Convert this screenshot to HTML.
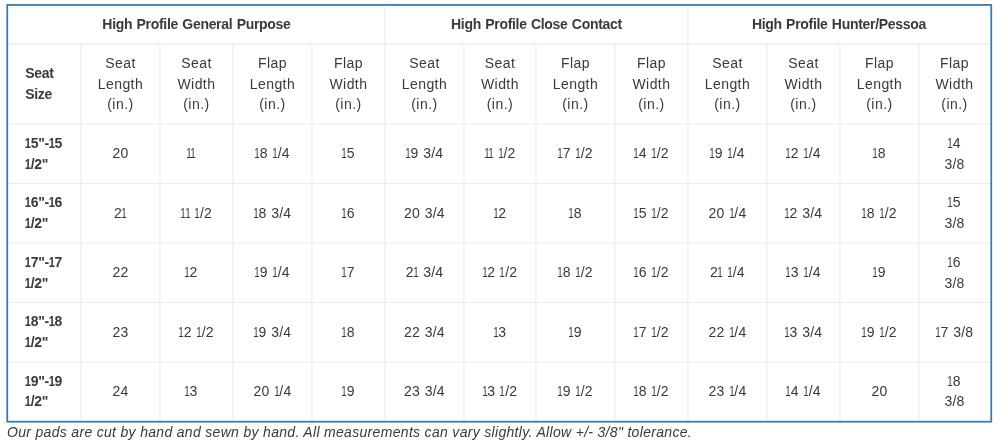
<!DOCTYPE html>
<html lang="en"><head><meta charset="utf-8"><title>Size chart</title>
<style>
html,body{margin:0;padding:0;background:#fff}
body{width:1000px;height:444px;position:relative;overflow:hidden;font-family:"Liberation Sans",sans-serif;color:#3a3a3a;font-size:14.0px;line-height:20.8px;letter-spacing:0.2px}
svg{position:absolute;left:0;top:0}
.c{position:absolute;display:flex;align-items:center;justify-content:center;text-align:center;box-sizing:border-box;word-spacing:0.7px}
.c span{display:block}
.c i{font-style:normal;display:inline-block;transform:scaleX(.7);margin:0 -1.6px 0 -1.7px}
.c i.s{margin-right:-1.2px}
.c i.t{margin-right:-1.9px}
.b i{transform:scaleX(.8);margin:0 -0.9px 0 -1.1px}
.h{letter-spacing:0.45px}
.b{font-weight:bold;letter-spacing:-0.3px}
.l{justify-content:flex-start;text-align:left;padding-left:17.2px}
.note{position:absolute;left:7px;top:422px;font-style:italic;white-space:nowrap;letter-spacing:0.315px}
</style></head><body>

<svg width="1000" height="444" viewBox="0 0 1000 444">
<line x1="8.1" x2="990.4" y1="43.85" y2="43.85" stroke="#ebebeb" stroke-width="1.1"/>
<line x1="8.1" x2="990.4" y1="124.05" y2="124.05" stroke="#ebebeb" stroke-width="1.1"/>
<line x1="8.1" x2="990.4" y1="183.5" y2="183.5" stroke="#ebebeb" stroke-width="1.1"/>
<line x1="8.1" x2="990.4" y1="243.0" y2="243.0" stroke="#ebebeb" stroke-width="1.1"/>
<line x1="8.1" x2="990.4" y1="302.5" y2="302.5" stroke="#ebebeb" stroke-width="1.1"/>
<line x1="8.1" x2="990.4" y1="362.0" y2="362.0" stroke="#ebebeb" stroke-width="1.1"/>
<line x1="80.95" x2="80.95" y1="43.85" y2="420.8" stroke="#ebebeb" stroke-width="1.1"/>
<line x1="159.95" x2="159.95" y1="43.85" y2="420.8" stroke="#ebebeb" stroke-width="1.1"/>
<line x1="232.95" x2="232.95" y1="43.85" y2="420.8" stroke="#ebebeb" stroke-width="1.1"/>
<line x1="311.95" x2="311.95" y1="43.85" y2="420.8" stroke="#ebebeb" stroke-width="1.1"/>
<line x1="384.95" x2="384.95" y1="5.85" y2="420.8" stroke="#ebebeb" stroke-width="1.1"/>
<line x1="463.95" x2="463.95" y1="43.85" y2="420.8" stroke="#ebebeb" stroke-width="1.1"/>
<line x1="535.95" x2="535.95" y1="43.85" y2="420.8" stroke="#ebebeb" stroke-width="1.1"/>
<line x1="614.95" x2="614.95" y1="43.85" y2="420.8" stroke="#ebebeb" stroke-width="1.1"/>
<line x1="687.95" x2="687.95" y1="5.85" y2="420.8" stroke="#ebebeb" stroke-width="1.1"/>
<line x1="766.95" x2="766.95" y1="43.85" y2="420.8" stroke="#ebebeb" stroke-width="1.1"/>
<line x1="839.95" x2="839.95" y1="43.85" y2="420.8" stroke="#ebebeb" stroke-width="1.1"/>
<line x1="918.95" x2="918.95" y1="43.85" y2="420.8" stroke="#ebebeb" stroke-width="1.1"/>
<rect x="7.25" y="4.95" width="984.0" height="416.75" fill="none" stroke="#3c7baa" stroke-width="1.8"/>
</svg>
<div class="c b" style="left:8.00px;top:5.85px;width:376.95px;height:38.00px"><span>High Profile General Purpose</span></div>
<div class="c b" style="left:384.95px;top:5.85px;width:303.00px;height:38.00px"><span>High Profile Close Contact</span></div>
<div class="c b" style="left:687.95px;top:5.85px;width:302.05px;height:38.00px"><span>High Profile Hunter/Pessoa</span></div>
<div class="c b l" style="left:8.00px;top:43.85px;width:72.95px;height:80.20px"><span>Seat<br>Size</span></div>
<div class="c h" style="left:80.95px;top:43.85px;width:79.00px;height:80.20px"><span>Seat<br>Length<br>(in.)</span></div>
<div class="c h" style="left:159.95px;top:43.85px;width:73.00px;height:80.20px"><span>Seat<br>Width<br>(in.)</span></div>
<div class="c h" style="left:232.95px;top:43.85px;width:79.00px;height:80.20px"><span>Flap<br>Length<br>(in.)</span></div>
<div class="c h" style="left:311.95px;top:43.85px;width:73.00px;height:80.20px"><span>Flap<br>Width<br>(in.)</span></div>
<div class="c h" style="left:384.95px;top:43.85px;width:79.00px;height:80.20px"><span>Seat<br>Length<br>(in.)</span></div>
<div class="c h" style="left:463.95px;top:43.85px;width:72.00px;height:80.20px"><span>Seat<br>Width<br>(in.)</span></div>
<div class="c h" style="left:535.95px;top:43.85px;width:79.00px;height:80.20px"><span>Flap<br>Length<br>(in.)</span></div>
<div class="c h" style="left:614.95px;top:43.85px;width:73.00px;height:80.20px"><span>Flap<br>Width<br>(in.)</span></div>
<div class="c h" style="left:687.95px;top:43.85px;width:79.00px;height:80.20px"><span>Seat<br>Length<br>(in.)</span></div>
<div class="c h" style="left:766.95px;top:43.85px;width:73.00px;height:80.20px"><span>Seat<br>Width<br>(in.)</span></div>
<div class="c h" style="left:839.95px;top:43.85px;width:79.00px;height:80.20px"><span>Flap<br>Length<br>(in.)</span></div>
<div class="c h" style="left:918.95px;top:43.85px;width:71.05px;height:80.20px"><span>Flap<br>Width<br>(in.)</span></div>
<div class="c b l" style="left:8.00px;top:124.05px;width:72.95px;height:59.45px"><span><i>1</i>5"-<i>1</i>5<br><i>1</i>/2"</span></div>
<div class="c " style="left:80.95px;top:124.05px;width:79.00px;height:59.45px"><span>20</span></div>
<div class="c " style="left:159.95px;top:124.05px;width:73.00px;height:59.45px"><span><span style="position:relative;left:-5.3px"><i class="t">1</i><i>1</i></span></span></div>
<div class="c " style="left:232.95px;top:124.05px;width:79.00px;height:59.45px"><span><i>1</i>8 <i class="s">1</i>/4</span></div>
<div class="c " style="left:311.95px;top:124.05px;width:73.00px;height:59.45px"><span><i>1</i>5</span></div>
<div class="c " style="left:384.95px;top:124.05px;width:79.00px;height:59.45px"><span><i>1</i>9 3/4</span></div>
<div class="c " style="left:463.95px;top:124.05px;width:72.00px;height:59.45px"><span><i class="t">1</i><i>1</i> <i class="s">1</i>/2</span></div>
<div class="c " style="left:535.95px;top:124.05px;width:79.00px;height:59.45px"><span><i>1</i>7 <i class="s">1</i>/2</span></div>
<div class="c " style="left:614.95px;top:124.05px;width:73.00px;height:59.45px"><span><i>1</i>4 <i class="s">1</i>/2</span></div>
<div class="c " style="left:687.95px;top:124.05px;width:79.00px;height:59.45px"><span><i>1</i>9 <i class="s">1</i>/4</span></div>
<div class="c " style="left:766.95px;top:124.05px;width:73.00px;height:59.45px"><span><i>1</i>2 <i class="s">1</i>/4</span></div>
<div class="c " style="left:839.95px;top:124.05px;width:79.00px;height:59.45px"><span><i>1</i>8</span></div>
<div class="c " style="left:918.95px;top:124.05px;width:71.05px;height:59.45px"><span><i>1</i>4<br>3/8</span></div>
<div class="c b l" style="left:8.00px;top:183.50px;width:72.95px;height:59.50px"><span><i>1</i>6"-<i>1</i>6<br><i>1</i>/2"</span></div>
<div class="c " style="left:80.95px;top:183.50px;width:79.00px;height:59.50px"><span>2<i>1</i></span></div>
<div class="c " style="left:159.95px;top:183.50px;width:73.00px;height:59.50px"><span><i class="t">1</i><i>1</i> <i class="s">1</i>/2</span></div>
<div class="c " style="left:232.95px;top:183.50px;width:79.00px;height:59.50px"><span><i>1</i>8 3/4</span></div>
<div class="c " style="left:311.95px;top:183.50px;width:73.00px;height:59.50px"><span><i>1</i>6</span></div>
<div class="c " style="left:384.95px;top:183.50px;width:79.00px;height:59.50px"><span>20 3/4</span></div>
<div class="c " style="left:463.95px;top:183.50px;width:72.00px;height:59.50px"><span><i>1</i>2</span></div>
<div class="c " style="left:535.95px;top:183.50px;width:79.00px;height:59.50px"><span><i>1</i>8</span></div>
<div class="c " style="left:614.95px;top:183.50px;width:73.00px;height:59.50px"><span><i>1</i>5 <i class="s">1</i>/2</span></div>
<div class="c " style="left:687.95px;top:183.50px;width:79.00px;height:59.50px"><span>20 <i class="s">1</i>/4</span></div>
<div class="c " style="left:766.95px;top:183.50px;width:73.00px;height:59.50px"><span><i>1</i>2 3/4</span></div>
<div class="c " style="left:839.95px;top:183.50px;width:79.00px;height:59.50px"><span><i>1</i>8 <i class="s">1</i>/2</span></div>
<div class="c " style="left:918.95px;top:183.50px;width:71.05px;height:59.50px"><span><i>1</i>5<br>3/8</span></div>
<div class="c b l" style="left:8.00px;top:243.00px;width:72.95px;height:59.50px"><span><i>1</i>7"-<i>1</i>7<br><i>1</i>/2"</span></div>
<div class="c " style="left:80.95px;top:243.00px;width:79.00px;height:59.50px"><span>22</span></div>
<div class="c " style="left:159.95px;top:243.00px;width:73.00px;height:59.50px"><span><span style="position:relative;left:-5.3px"><i>1</i>2</span></span></div>
<div class="c " style="left:232.95px;top:243.00px;width:79.00px;height:59.50px"><span><i>1</i>9 <i class="s">1</i>/4</span></div>
<div class="c " style="left:311.95px;top:243.00px;width:73.00px;height:59.50px"><span><i>1</i>7</span></div>
<div class="c " style="left:384.95px;top:243.00px;width:79.00px;height:59.50px"><span>2<i>1</i> 3/4</span></div>
<div class="c " style="left:463.95px;top:243.00px;width:72.00px;height:59.50px"><span><i>1</i>2 <i class="s">1</i>/2</span></div>
<div class="c " style="left:535.95px;top:243.00px;width:79.00px;height:59.50px"><span><i>1</i>8 <i class="s">1</i>/2</span></div>
<div class="c " style="left:614.95px;top:243.00px;width:73.00px;height:59.50px"><span><i>1</i>6 <i class="s">1</i>/2</span></div>
<div class="c " style="left:687.95px;top:243.00px;width:79.00px;height:59.50px"><span>2<i>1</i> <i class="s">1</i>/4</span></div>
<div class="c " style="left:766.95px;top:243.00px;width:73.00px;height:59.50px"><span><i>1</i>3 <i class="s">1</i>/4</span></div>
<div class="c " style="left:839.95px;top:243.00px;width:79.00px;height:59.50px"><span><i>1</i>9</span></div>
<div class="c " style="left:918.95px;top:243.00px;width:71.05px;height:59.50px"><span><i>1</i>6<br>3/8</span></div>
<div class="c b l" style="left:8.00px;top:302.50px;width:72.95px;height:59.50px"><span><i>1</i>8"-<i>1</i>8<br><i>1</i>/2"</span></div>
<div class="c " style="left:80.95px;top:302.50px;width:79.00px;height:59.50px"><span>23</span></div>
<div class="c " style="left:159.95px;top:302.50px;width:73.00px;height:59.50px"><span><i>1</i>2 <i class="s">1</i>/2</span></div>
<div class="c " style="left:232.95px;top:302.50px;width:79.00px;height:59.50px"><span><i>1</i>9 3/4</span></div>
<div class="c " style="left:311.95px;top:302.50px;width:73.00px;height:59.50px"><span><i>1</i>8</span></div>
<div class="c " style="left:384.95px;top:302.50px;width:79.00px;height:59.50px"><span>22 3/4</span></div>
<div class="c " style="left:463.95px;top:302.50px;width:72.00px;height:59.50px"><span><i>1</i>3</span></div>
<div class="c " style="left:535.95px;top:302.50px;width:79.00px;height:59.50px"><span><i>1</i>9</span></div>
<div class="c " style="left:614.95px;top:302.50px;width:73.00px;height:59.50px"><span><i>1</i>7 <i class="s">1</i>/2</span></div>
<div class="c " style="left:687.95px;top:302.50px;width:79.00px;height:59.50px"><span>22 <i class="s">1</i>/4</span></div>
<div class="c " style="left:766.95px;top:302.50px;width:73.00px;height:59.50px"><span><i>1</i>3 3/4</span></div>
<div class="c " style="left:839.95px;top:302.50px;width:79.00px;height:59.50px"><span><i>1</i>9 <i class="s">1</i>/2</span></div>
<div class="c " style="left:918.95px;top:302.50px;width:71.05px;height:59.50px"><span><i>1</i>7 3/8</span></div>
<div class="c b l" style="left:8.00px;top:362.00px;width:72.95px;height:58.80px"><span><i>1</i>9"-<i>1</i>9<br><i>1</i>/2"</span></div>
<div class="c " style="left:80.95px;top:362.00px;width:79.00px;height:58.80px"><span>24</span></div>
<div class="c " style="left:159.95px;top:362.00px;width:73.00px;height:58.80px"><span><span style="position:relative;left:-5.3px"><i>1</i>3</span></span></div>
<div class="c " style="left:232.95px;top:362.00px;width:79.00px;height:58.80px"><span>20 <i class="s">1</i>/4</span></div>
<div class="c " style="left:311.95px;top:362.00px;width:73.00px;height:58.80px"><span><i>1</i>9</span></div>
<div class="c " style="left:384.95px;top:362.00px;width:79.00px;height:58.80px"><span>23 3/4</span></div>
<div class="c " style="left:463.95px;top:362.00px;width:72.00px;height:58.80px"><span><i>1</i>3 <i class="s">1</i>/2</span></div>
<div class="c " style="left:535.95px;top:362.00px;width:79.00px;height:58.80px"><span><i>1</i>9 <i class="s">1</i>/2</span></div>
<div class="c " style="left:614.95px;top:362.00px;width:73.00px;height:58.80px"><span><i>1</i>8 <i class="s">1</i>/2</span></div>
<div class="c " style="left:687.95px;top:362.00px;width:79.00px;height:58.80px"><span>23 <i class="s">1</i>/4</span></div>
<div class="c " style="left:766.95px;top:362.00px;width:73.00px;height:58.80px"><span><i>1</i>4 <i class="s">1</i>/4</span></div>
<div class="c " style="left:839.95px;top:362.00px;width:79.00px;height:58.80px"><span>20</span></div>
<div class="c " style="left:918.95px;top:362.00px;width:71.05px;height:58.80px"><span><i>1</i>8<br>3/8</span></div>
<div class="note">Our pads are cut by hand and sewn by hand. All measurements can vary slightly. Allow +/- 3/8" tolerance.</div>
</body></html>
